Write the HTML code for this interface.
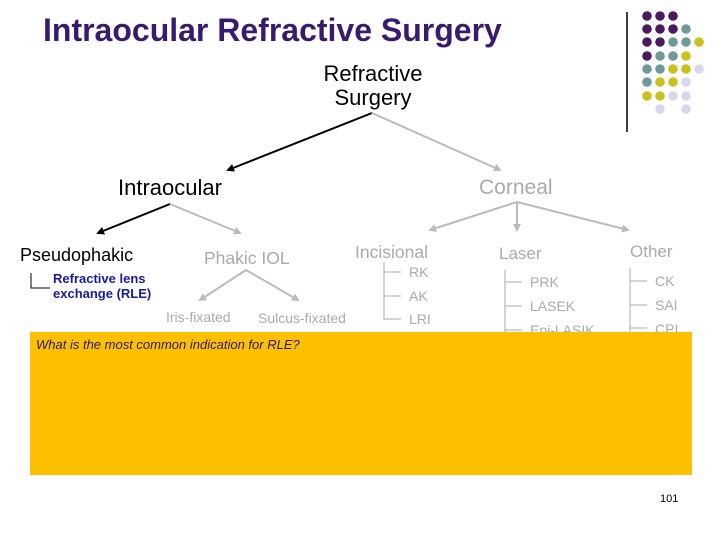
<!DOCTYPE html>
<html><head><meta charset="utf-8"><style>
body{margin:0;width:720px;height:540px;background:#fff;position:relative;overflow:hidden;font-family:"Liberation Sans",sans-serif}
.t{position:absolute;white-space:nowrap}
</style></head><body>
<svg width="720" height="540" style="position:absolute;left:0;top:0">
<defs>
<marker id="ab" markerWidth="8" markerHeight="8" refX="6" refY="4" orient="auto" markerUnits="userSpaceOnUse"><path d="M0,0 L8,4 L0,8z" fill="#000"/></marker>
<marker id="ag" markerWidth="8" markerHeight="8" refX="6" refY="4" orient="auto" markerUnits="userSpaceOnUse"><path d="M0,0 L8,4 L0,8z" fill="#bbb"/></marker>
</defs>
<line x1="627" y1="12" x2="627" y2="132" stroke="#000" stroke-width="1.5"/>
<g>
<circle cx="647" cy="16" r="4.8" fill="#4a1a5e"/><circle cx="660" cy="16" r="4.8" fill="#4a1a5e"/><circle cx="673" cy="16" r="4.8" fill="#4a1a5e"/>
<circle cx="647" cy="29" r="4.8" fill="#4a1a5e"/><circle cx="660" cy="29" r="4.8" fill="#4a1a5e"/><circle cx="673" cy="29" r="4.8" fill="#4a1a5e"/><circle cx="686" cy="29" r="4.8" fill="#6f9a9a"/>
<circle cx="647" cy="42" r="4.8" fill="#4a1a5e"/><circle cx="660" cy="42" r="4.8" fill="#4a1a5e"/><circle cx="673" cy="42" r="4.8" fill="#6f9a9a"/><circle cx="686" cy="42" r="4.8" fill="#6f9a9a"/><circle cx="699" cy="42" r="4.8" fill="#c9c21e"/>
<circle cx="647" cy="56" r="4.8" fill="#4a1a5e"/><circle cx="660" cy="56" r="4.8" fill="#6f9a9a"/><circle cx="673" cy="56" r="4.8" fill="#6f9a9a"/><circle cx="686" cy="56" r="4.8" fill="#c9c21e"/>
<circle cx="647" cy="69" r="4.8" fill="#6f9a9a"/><circle cx="660" cy="69" r="4.8" fill="#6f9a9a"/><circle cx="673" cy="69" r="4.8" fill="#c9c21e"/><circle cx="686" cy="69" r="4.8" fill="#c9c21e"/><circle cx="699" cy="69" r="4.8" fill="#d8d8ea"/>
<circle cx="647" cy="82" r="4.8" fill="#6f9a9a"/><circle cx="660" cy="82" r="4.8" fill="#c9c21e"/><circle cx="673" cy="82" r="4.8" fill="#c9c21e"/><circle cx="686" cy="82" r="4.8" fill="#d8d8ea"/>
<circle cx="647" cy="96" r="4.8" fill="#c9c21e"/><circle cx="660" cy="96" r="4.8" fill="#c9c21e"/><circle cx="673" cy="96" r="4.8" fill="#d8d8ea"/><circle cx="686" cy="96" r="4.8" fill="#d8d8ea"/>
<circle cx="660" cy="109" r="4.8" fill="#d8d8ea"/><circle cx="686" cy="109" r="4.8" fill="#d8d8ea"/>
</g>
<line x1="372" y1="113" x2="228" y2="170" stroke="#000" stroke-width="2" marker-end="url(#ab)"/>
<line x1="372" y1="113" x2="500" y2="170" stroke="#bbb" stroke-width="2" marker-end="url(#ag)"/>
<line x1="170" y1="204" x2="98" y2="233" stroke="#000" stroke-width="2" marker-end="url(#ab)"/>
<line x1="170" y1="204" x2="240" y2="233" stroke="#bbb" stroke-width="2" marker-end="url(#ag)"/>
<line x1="246" y1="270" x2="200" y2="300" stroke="#bbb" stroke-width="2" marker-end="url(#ag)"/>
<line x1="246" y1="270" x2="298" y2="300" stroke="#bbb" stroke-width="2" marker-end="url(#ag)"/>
<line x1="517" y1="202" x2="430" y2="230" stroke="#bbb" stroke-width="2" marker-end="url(#ag)"/>
<line x1="517" y1="202" x2="517" y2="230" stroke="#bbb" stroke-width="2" marker-end="url(#ag)"/>
<line x1="517" y1="202" x2="628" y2="230" stroke="#bbb" stroke-width="2" marker-end="url(#ag)"/>
<path d="M31,273 V288 H50" fill="none" stroke="#000" stroke-width="1"/>
<g stroke="#aaa" stroke-width="1" fill="none">
<path d="M384,262 V319 H401 M384,272 H401 M384,296 H401"/>
<path d="M505,270 V340 M505,282 H522 M505,306 H522 M505,330 H522"/>
<path d="M630,268 V340 M630,281 H647 M630,305 H647 M630,328 H647"/>
</g>
</svg>
<div class="t" style="left:43px;top:12px;font-size:32px;font-weight:bold;color:#3a1a6e">Intraocular Refractive Surgery</div>
<div class="t" style="left:300px;top:62px;font-size:22px;line-height:24px;text-align:center;width:146px">Refractive<br>Surgery</div>
<div class="t" style="left:118px;top:175px;font-size:22px">Intraocular</div>
<div class="t" style="left:479px;top:176px;font-size:21px;color:#aaa">Corneal</div>
<div class="t" style="left:20px;top:245px;font-size:18px">Pseudophakic</div>
<div class="t" style="left:204px;top:248px;font-size:17.5px;color:#aaa">Phakic IOL</div>
<div class="t" style="left:53px;top:271px;font-size:13px;line-height:15px;font-weight:bold;color:#1a1aa0">Refractive lens<br>exchange (RLE)</div>
<div class="t" style="left:166px;top:309px;font-size:14px;color:#aaa">Iris-fixated</div>
<div class="t" style="left:258px;top:310px;font-size:14px;color:#aaa">Sulcus-fixated</div>
<div class="t" style="left:355px;top:242px;font-size:17.5px;color:#aaa">Incisional</div>
<div class="t" style="left:499px;top:244px;font-size:17px;color:#aaa">Laser</div>
<div class="t" style="left:630px;top:242px;font-size:17px;color:#aaa">Other</div>
<div class="t" style="left:409px;top:264px;font-size:14px;color:#aaa">RK</div>
<div class="t" style="left:409px;top:288px;font-size:14px;color:#aaa">AK</div>
<div class="t" style="left:409px;top:311px;font-size:14px;color:#aaa">LRI</div>
<div class="t" style="left:530px;top:274px;font-size:14px;color:#aaa">PRK</div>
<div class="t" style="left:530px;top:298px;font-size:14px;color:#aaa">LASEK</div>
<div class="t" style="left:530px;top:322px;font-size:14px;color:#aaa">Epi-LASIK</div>
<div class="t" style="left:655px;top:273px;font-size:14px;color:#aaa">CK</div>
<div class="t" style="left:655px;top:297px;font-size:14px;color:#aaa">SAI</div>
<div class="t" style="left:655px;top:321px;font-size:14px;color:#aaa">CPI</div>
<div style="position:absolute;left:30px;top:332px;width:662px;height:143px;background:#fdc000"></div>
<div class="t" style="left:36px;top:337px;font-size:13px;font-style:italic;color:#2a1a5e">What is the most common indication for RLE?</div>
<div class="t" style="left:660px;top:493px;font-size:11px">101</div>
</body></html>
